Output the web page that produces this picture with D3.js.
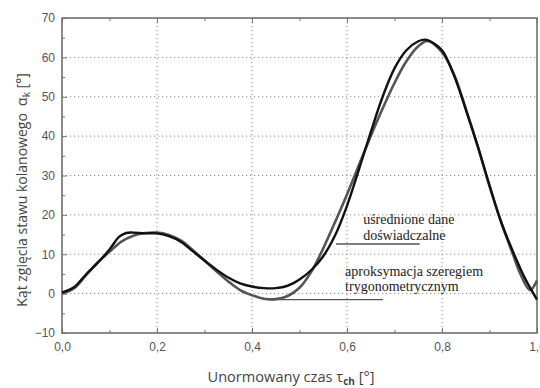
<!DOCTYPE html>
<html>
<head>
<meta charset="utf-8">
<script src="https://cdn.jsdelivr.net/npm/d3@7"></script>
<style>
  body { margin: 0; background: #fff; }
  svg { display: block; }
  .note text { font-family: 'Liberation Serif', 'Times New Roman', 'DejaVu Serif', serif; font-size: 14px; }
</style>
</head>
<body>
<div id="chart-area"></div>
<script>

// averaged experimental data (black)
const expTau = [0, 0.025, 0.05, 0.075, 0.1, 0.12, 0.135, 0.15, 0.175, 0.2, 0.225, 0.25, 0.275, 0.3,
    0.325, 0.35, 0.375, 0.4, 0.425, 0.45, 0.475, 0.5, 0.525, 0.55, 0.575, 0.6, 0.625, 0.65,
    0.675, 0.7, 0.725, 0.75, 0.765, 0.775, 0.8, 0.825, 0.85, 0.875, 0.9, 0.925, 0.95, 0.975, 1.0]
const expAngle = [0.3, 1.6, 4.8, 7.8, 11.2, 14.4, 15.4, 15.5, 15.3, 15.3, 14.6, 13.2, 10.8, 8.4,
    6.1, 4.1, 2.6, 1.8, 1.4, 1.4, 2.0, 3.6, 6.0, 9.5, 14.8, 22.3, 31.5, 41.0,
    50.0, 57.2, 61.8, 64.1, 64.5, 64.1, 61.8, 55.5, 46.8, 37.5, 27.5, 18.0, 10.5, 3.8, -1.5]

// trigonometric series approximation (grey)
const aprTau = [0, 0.025, 0.05, 0.075, 0.1, 0.125, 0.15, 0.175, 0.2, 0.225, 0.25, 0.275, 0.3,
    0.325, 0.35, 0.375, 0.4, 0.425, 0.45, 0.475, 0.5, 0.525, 0.55, 0.575, 0.6, 0.625, 0.65,
    0.675, 0.7, 0.725, 0.75, 0.77, 0.8, 0.825, 0.85, 0.875, 0.9, 0.925, 0.95, 0.965, 0.985, 1.0]
const aprAngle = [0, 1.3, 4.6, 7.9, 10.6, 13.2, 14.7, 15.4, 15.5, 14.9, 13.5, 11.1, 8.4,
    5.7, 3.1, 0.9, -0.4, -1.3, -1.4, -0.6, 1.5, 5.6, 11.5, 18.2, 25.2, 32.6, 40.0,
    47.0, 53.5, 59.0, 62.8, 64.2, 61.3, 55.8, 47.0, 37.5, 27.3, 18.0, 9.8, 5.0, 0.9, 3.3]

const xTicks = [0, 0.2, 0.4, 0.6, 0.8, 1.0]
const xMinor = [0.1, 0.3, 0.5, 0.7, 0.9]
const yTicks = [-10, 0, 10, 20, 30, 40, 50, 60, 70]
const yMinor = [-5, 5, 15, 25, 35, 45, 55, 65]

const labelExp = ['uśrednione dane', 'doświadczalne']
const labelApr = ['aproksymacja szeregiem', 'trygonometrycznym']

const MARGIN = { LEFT: 62, RIGHT: 3, TOP: 18, BOTTOM: 55 }
const WIDTH = 540 - MARGIN.LEFT - MARGIN.RIGHT
const HEIGHT = 388 - MARGIN.TOP - MARGIN.BOTTOM

const svg = d3.select('#chart-area').append('svg')
    .attr('width', 540)
    .attr('height', 388)

const g = svg.append('g')
    .attr('transform', `translate(${MARGIN.LEFT}, ${MARGIN.TOP})`)

const x = d3.scaleLinear().domain([0, 1]).range([0, WIDTH])
const y = d3.scaleLinear().domain([-10, 70]).range([HEIGHT, 0])

const fmt = d => d3.format('.1f')(d).replace('.', ',')

// dotted grid
g.append('g').selectAll('line')
    .data(xTicks.filter(d => d > 0 && d < 1))
    .enter().append('line')
    .attr('x1', d => x(d)).attr('x2', d => x(d))
    .attr('y1', 0).attr('y2', HEIGHT)
    .attr('stroke', '#8a8a8a').attr('stroke-width', 1)
    .attr('stroke-dasharray', '1.2,2.8')

g.append('g').selectAll('line')
    .data(yTicks.filter(d => d > -10 && d < 70))
    .enter().append('line')
    .attr('x1', 0).attr('x2', WIDTH)
    .attr('y1', d => y(d)).attr('y2', d => y(d))
    .attr('stroke', '#8a8a8a').attr('stroke-width', 1)
    .attr('stroke-dasharray', '1.2,2.8')

// axes with inward ticks
const xAxisCall = d3.axisBottom(x).tickValues(xTicks).tickSize(-5).tickFormat(fmt).tickPadding(9)
g.append('g')
    .attr('class', 'x axis')
    .attr('transform', `translate(0, ${HEIGHT})`)
    .call(xAxisCall)

g.append('g')
    .attr('transform', `translate(0, ${HEIGHT})`)
    .call(d3.axisBottom(x).tickValues(xMinor).tickSize(-3).tickFormat(''))

g.append('g').call(d3.axisTop(x).tickValues(xTicks).tickSize(-5).tickFormat(''))
g.append('g').call(d3.axisTop(x).tickValues(xMinor).tickSize(-3).tickFormat(''))

const yAxisCall = d3.axisLeft(y).tickValues(yTicks).tickSize(-5).tickPadding(7)
g.append('g')
    .attr('class', 'y axis')
    .call(yAxisCall)

g.append('g').call(d3.axisLeft(y).tickValues(yMinor).tickSize(-3).tickFormat(''))

g.selectAll('.domain').remove()
g.selectAll('.tick line').attr('stroke', '#777').attr('stroke-width', 1)
g.selectAll('.tick text')
    .attr('fill', '#555')
    .style('font-family', "'Liberation Sans', Arial, sans-serif")
    .style('font-size', '12px')

// frame
g.append('rect')
    .attr('x', 0).attr('y', 0)
    .attr('width', WIDTH).attr('height', HEIGHT)
    .attr('fill', 'none')
    .attr('stroke', '#6e6e6e')
    .attr('stroke-width', 1.6)

// curves
const line = d3.line()
    .x(d => x(d[0]))
    .y(d => y(d[1]))
    .curve(d3.curveCatmullRom.alpha(0.5))

g.append('path')
    .datum(d3.zip(aprTau, aprAngle))
    .attr('d', line)
    .attr('fill', 'none')
    .attr('stroke', '#555')
    .attr('stroke-width', 2.6)

g.append('path')
    .datum(d3.zip(expTau, expAngle))
    .attr('d', line)
    .attr('fill', 'none')
    .attr('stroke', '#111')
    .attr('stroke-width', 2.4)

// annotations
const note = g.append('g')
    .attr('class', 'note')
    .attr('fill', '#222')

note.append('line')
    .attr('x1', x(0.577)).attr('x2', x(0.753))
    .attr('y1', y(12.6)).attr('y2', y(12.6))
    .attr('stroke', '#555').attr('stroke-width', 1.3)

note.append('line')
    .attr('x1', x(0.434)).attr('x2', x(0.676))
    .attr('y1', y(-1.5)).attr('y2', y(-1.5))
    .attr('stroke', '#555').attr('stroke-width', 1.3)

note.selectAll('.exp')
    .data(labelExp)
    .enter().append('text')
    .attr('x', x(0.634))
    .attr('y', (d, i) => y(17.8) + i * 16.5)
    .text(d => d)

note.selectAll('.apr')
    .data(labelApr)
    .enter().append('text')
    .attr('x', x(0.596))
    .attr('y', (d, i) => y(4.6) + i * 15)
    .text(d => d)

// axis titles
const titleFont = "'Open Sans', 'Liberation Sans', sans-serif"

const xt = svg.append('text')
    .attr('x', 291)
    .attr('y', 382)
    .attr('text-anchor', 'middle')
    .attr('fill', '#444')
    .style('font-family', titleFont)
    .style('font-size', '14px')
xt.append('tspan').text('Unormowany czas τ')
xt.append('tspan').attr('dy', 3).style('font-size', '10px').style('font-weight', 'bold').text('ch')
xt.append('tspan').attr('dy', -3).text(' [°]')

// stretch the x title to the width it has in the picture
const xtWidth = xt.node().getComputedTextLength()
xt.style('font-size', (14 * 168 / xtWidth).toFixed(1) + 'px')

const yt = svg.append('text')
    .attr('transform', 'translate(27, 190) rotate(-90)')
    .attr('text-anchor', 'middle')
    .attr('fill', '#444')
    .style('font-family', titleFont)
    .style('font-size', '14px')
yt.append('tspan').text('Kąt zgięcia stawu kolanowego\u00a0\u00a0α')
yt.append('tspan').attr('dy', 3).style('font-size', '10px').text('k')
yt.append('tspan').attr('dy', -3).text(' [°]')

</script>
</body>
</html>
